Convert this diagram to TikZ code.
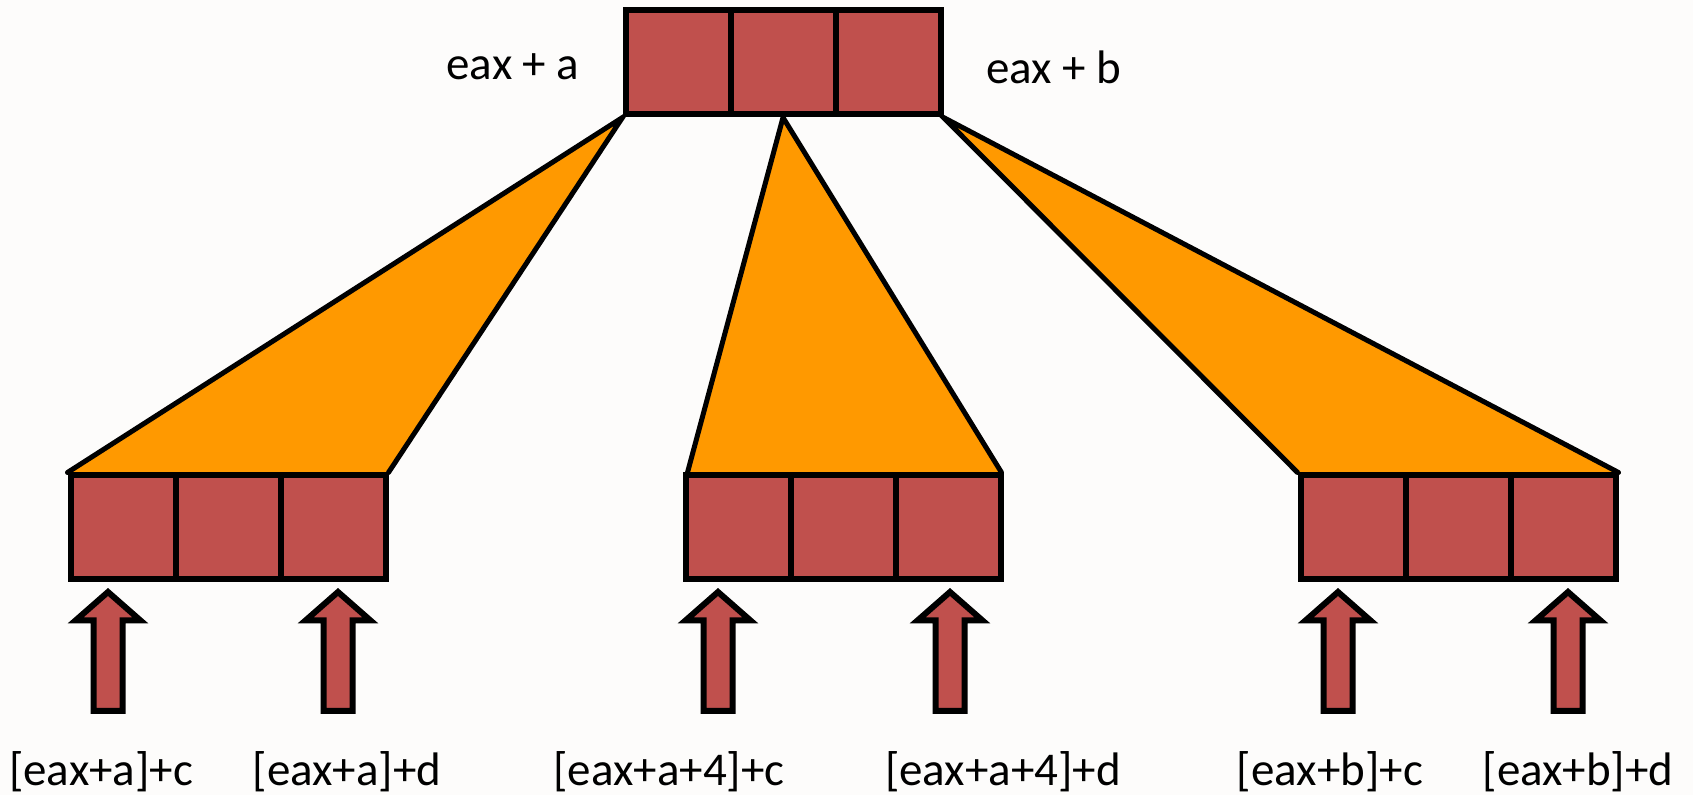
\documentclass[tikz,border=0pt]{standalone}
\usepackage{fontspec}
\setmainfont{Carlito}
\usetikzlibrary{backgrounds}
\definecolor{cellred}{HTML}{C0504D}
\definecolor{fanorange}{HTML}{FF9900}
\definecolor{bgcol}{HTML}{FDFCFB}
\tikzset{
  cell/.style={draw=black, fill=cellred, line width=3pt, minimum width=52.5pt, minimum height=52pt, inner sep=0pt},
  fanfill/.style={fill=fanorange},
  fanline/.style={draw=black, line width=2.5pt, line cap=round},
  lbl/.style={font=\fontsize{23.5}{28}\selectfont, inner sep=0pt},
  arrowbody/.style={fill=cellred, draw=black, line width=3pt, line join=miter},
  uparrow/.pic={\path[arrowbody] (0,0) -- (32.5,28.5) -- (14.5,28.5) -- (14.5,119) -- (-14.5,119) -- (-14.5,28.5) -- (-32.5,28.5) -- cycle;}
}
\begin{document}
\begin{tikzpicture}[x=0.5pt,y=-0.5pt]
\useasboundingbox (0,0) rectangle (1693,795);
% top box
\node[cell] (t1) at (678,62.5) {};
\node[cell] (t2) at (783,62.5) {};
\node[cell] (t3) at (888,62.5) {};
% left box
\node[cell] (l1) at (123,527.5) {};
\node[cell] (l2) at (228,527.5) {};
\node[cell] (l3) at (333,527.5) {};
% middle box
\node[cell] (m1) at (738,527.5) {};
\node[cell] (m2) at (843,527.5) {};
\node[cell] (m3) at (948,527.5) {};
% right box
\node[cell] (r1) at (1353,527.5) {};
\node[cell] (r2) at (1458,527.5) {};
\node[cell] (r3) at (1563,527.5) {};
\begin{scope}[on background layer]
\fill[bgcol] (0,0) rectangle (1693,795);
\fill[fanfill] (t1.south west) -- (l1.north west) -- (l3.north east) -- cycle;
\draw[fanline] (l1.north west) -- (t1.south west) -- (l3.north east);
\fill[fanfill] (t2.south) -- ([xshift=2.5pt]m1.north west) -- ([xshift=-1pt]m3.north east) -- cycle;
\draw[fanline] ([xshift=2.5pt]m1.north west) -- (t2.south) -- ([xshift=-1pt]m3.north east);
\fill[fanfill] (t3.south east) -- (r1.north west) -- (r3.north east) -- cycle;
\draw[fanline] (r1.north west) -- (t3.south east) -- (r3.north east);
\end{scope}
% top labels
\node[lbl] (ta) at (513,67) {eax + a};
\node[lbl] (tb) at (1054,67) {eax + b};
% arrows
\coordinate (a1) at (108,592);
\coordinate (a2) at (338,592);
\coordinate (a3) at (718,592);
\coordinate (a4) at (950,592);
\coordinate (a5) at (1338,592);
\coordinate (a6) at (1568,592);
\foreach \a in {a1,a2,a3,a4,a5,a6} {\pic at (\a) {uparrow};}
% bottom labels
\node[lbl] (b1) at (101,772) {[eax+a]+c};
\node[lbl] (b2) at (347,772) {[eax+a]+d};
\node[lbl] (b3) at (669,772) {[eax+a+4]+c};
\node[lbl] (b4) at (1003,772) {[eax+a+4]+d};
\node[lbl] (b5) at (1330,772) {[eax+b]+c};
\node[lbl] (b6) at (1578,772) {[eax+b]+d};
\end{tikzpicture}
\end{document}
